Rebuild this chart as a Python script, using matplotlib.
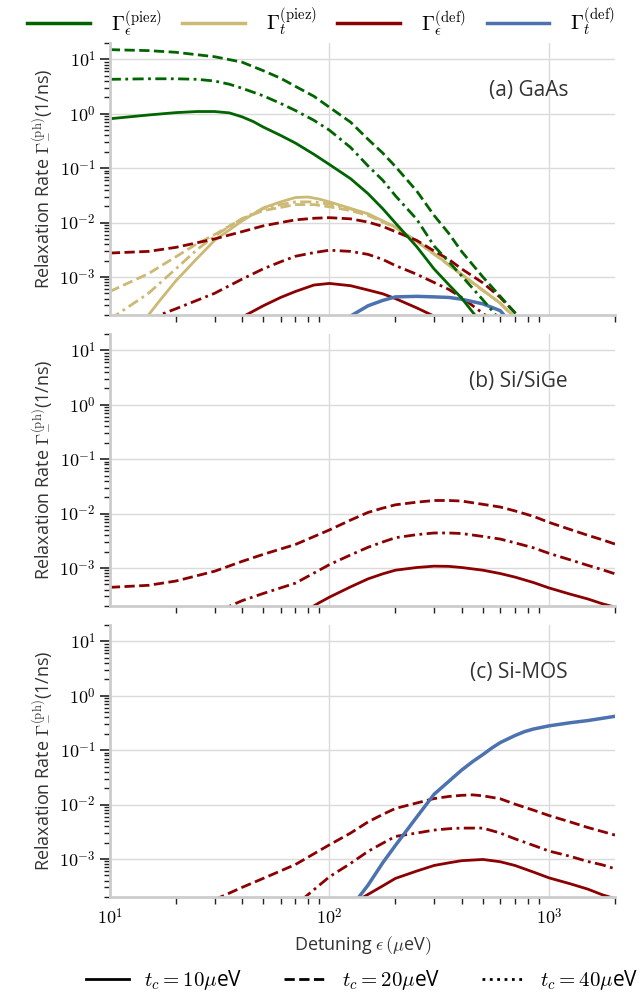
import numpy as np
import matplotlib
matplotlib.use('Agg')
import matplotlib.pyplot as plt
from matplotlib.lines import Line2D
from matplotlib.ticker import LogLocator, FuncFormatter, NullFormatter

plt.rcParams['font.family'] = ['Open Sans', 'DejaVu Sans']
plt.rcParams['mathtext.fontset'] = 'cm'

# ---------------- data (eps in ueV, rates in 1/ns) ----------------
# (a) GaAs
gaas_piez_e_10_x = [10, 15, 20, 25, 30, 35, 40, 45, 50, 60, 70, 85, 100, 125, 150, 175, 200, 250, 300, 350, 400, 500]
gaas_piez_e_10_y = [0.81, 0.95, 1.05, 1.10, 1.10, 1.04, 0.88, 0.72, 0.57, 0.40, 0.29, 0.18, 0.117, 0.064, 0.034,
                    0.018, 0.0098, 3.6e-3, 1.4e-3, 7.2e-4, 4.1e-4, 1.3e-4]
gaas_piez_e_20_x = [10, 15, 20, 30, 40, 50, 60, 70, 85, 100, 125, 150, 175, 200, 250, 300, 350, 400, 500, 600, 700, 750]
gaas_piez_e_20_y = [15.1, 14.5, 13.5, 11.2, 8.9, 6.2, 4.5, 3.2, 2.1, 1.32, 0.70, 0.34, 0.19, 0.107, 0.038, 0.0135,
                    6.3e-3, 2.95e-3, 1.0e-3, 4.4e-4, 2.2e-4, 1.6e-4]
gaas_piez_e_40_x = [10, 15, 20, 25, 30, 35, 40, 50, 60, 70, 85, 100, 125, 150, 175, 200, 250, 300, 350, 400, 500, 600]
gaas_piez_e_40_y = [4.3, 4.4, 4.4, 4.3, 4.0, 3.5, 2.95, 2.14, 1.55, 1.15, 0.76, 0.50, 0.24, 0.11, 0.06, 0.031,
                    0.0115, 3.7e-3, 1.9e-3, 1.05e-3, 3.8e-4, 1.6e-4]

gaas_piez_t_10_x = [14, 17, 20, 25, 30, 35, 40, 50, 60, 70, 80, 90, 100, 150, 200, 250, 300, 350, 400, 500, 600, 700]
gaas_piez_t_10_y = [1.4e-4, 3.8e-4, 8.5e-4, 2.2e-3, 4.7e-3, 7.3e-3, 0.0107, 0.0186, 0.024, 0.0288, 0.0295, 0.027,
                    0.024, 0.0145, 8.3e-3, 4.5e-3, 2.7e-3, 1.66e-3, 1.12e-3, 5.75e-4, 3.3e-4, 1.8e-4]
gaas_piez_t_20_x = [10, 15, 20, 25, 30, 40, 50, 60, 70, 85, 100, 125, 150, 200, 250, 300, 350, 400, 500, 600, 700]
gaas_piez_t_20_y = [5.4e-4, 1.15e-3, 2.35e-3, 4.1e-3, 6.0e-3, 0.0117, 0.0166, 0.019, 0.0214, 0.0214, 0.0195, 0.0166,
                    0.0135, 8.1e-3, 4.5e-3, 2.6e-3, 1.66e-3, 1.1e-3, 5.6e-4, 3.3e-4, 1.74e-4]
gaas_piez_t_40_x = [10, 15, 20, 25, 30, 35, 40, 50, 60, 70, 85, 100, 125, 150, 200, 250, 300, 350, 400, 500, 600, 700]
gaas_piez_t_40_y = [1.66e-4, 5.0e-4, 1.41e-3, 3.2e-3, 5.6e-3, 8.5e-3, 0.0117, 0.018, 0.0214, 0.024, 0.024, 0.0219,
                    0.0178, 0.0141, 8.3e-3, 4.5e-3, 2.66e-3, 1.66e-3, 1.11e-3, 5.7e-4, 3.3e-4, 1.76e-4]

gaas_def_e_10_x = [35, 40, 50, 60, 70, 85, 100, 125, 150, 175, 200, 250, 300]
gaas_def_e_10_y = [1.38e-4, 1.82e-4, 2.95e-4, 4.2e-4, 5.4e-4, 7.1e-4, 7.6e-4, 6.9e-4, 5.75e-4, 4.9e-4, 4.0e-4,
                   2.7e-4, 1.9e-4]
gaas_def_e_20_x = [10, 15, 20, 30, 40, 50, 60, 70, 85, 100, 125, 150, 175, 200, 250, 300, 350, 400, 500, 600, 700, 750]
gaas_def_e_20_y = [2.75e-3, 2.95e-3, 3.5e-3, 5.0e-3, 6.8e-3, 8.7e-3, 0.010, 0.0112, 0.012, 0.0123, 0.0117, 0.0102,
                   8.5e-3, 6.8e-3, 4.7e-3, 3.0e-3, 2.1e-3, 1.41e-3, 7.8e-4, 4.2e-4, 2.2e-4, 1.6e-4]
gaas_def_e_40_x = [15, 20, 30, 40, 50, 60, 70, 85, 100, 125, 150, 175, 200, 250, 300, 350, 400, 500, 550]
gaas_def_e_40_y = [1.66e-4, 2.6e-4, 5.0e-4, 9.1e-4, 1.41e-3, 1.9e-3, 2.4e-3, 2.8e-3, 3.1e-3, 2.95e-3, 2.6e-3,
                   2.1e-3, 1.62e-3, 1.12e-3, 7.9e-4, 5.9e-4, 4.2e-4, 2.15e-4, 1.6e-4]

gaas_def_t_x = [120, 150, 175, 200, 250, 300, 350, 400, 500, 600, 650]
gaas_def_t_y = [1.74e-4, 2.95e-4, 3.7e-4, 4.3e-4, 4.4e-4, 4.3e-4, 4.2e-4, 3.9e-4, 3.2e-4, 2.4e-4, 1.66e-4]

# (b) Si/SiGe
sige_def_e_10_x = [80, 90, 100, 125, 150, 175, 200, 250, 300, 350, 400, 500, 600, 700, 850, 1000, 1250, 1500, 1750, 2000]
sige_def_e_10_y = [1.74e-4, 2.3e-4, 2.9e-4, 4.5e-4, 6.3e-4, 7.8e-4, 9.1e-4, 1.02e-3, 1.08e-3, 1.07e-3, 1.02e-3,
                   9.1e-4, 7.9e-4, 6.8e-4, 5.4e-4, 4.3e-4, 3.3e-4, 2.7e-4, 2.2e-4, 1.9e-4]
sige_def_e_20_x = [10, 15, 20, 30, 40, 50, 70, 100, 125, 150, 175, 200, 250, 300, 350, 400, 500, 600, 700, 850,
                   1000, 1250, 1500, 1750, 2000]
sige_def_e_20_y = [4.4e-4, 4.8e-4, 5.75e-4, 8.7e-4, 1.32e-3, 1.78e-3, 2.7e-3, 5.0e-3, 7.6e-3, 0.0105, 0.0126,
                   0.0145, 0.0162, 0.0174, 0.0174, 0.017, 0.0148, 0.0132, 0.0112, 8.9e-3, 6.9e-3, 5.1e-3, 4.0e-3,
                   3.3e-3, 2.75e-3]
sige_def_e_40_x = [30, 40, 50, 70, 100, 125, 150, 175, 200, 250, 300, 350, 400, 500, 600, 700, 850, 1000, 1250,
                   1500, 1750, 2000]
sige_def_e_40_y = [1.5e-4, 2.5e-4, 3.4e-4, 5.25e-4, 1.15e-3, 1.74e-3, 2.4e-3, 3.0e-3, 3.6e-3, 4.1e-3, 4.4e-3,
                   4.4e-3, 4.3e-3, 3.8e-3, 3.4e-3, 2.9e-3, 2.35e-3, 1.86e-3, 1.41e-3, 1.12e-3, 9.3e-4, 7.8e-4]

# (c) Si-MOS
mos_def_e_10_x = [140, 175, 200, 250, 300, 350, 400, 500, 600, 700, 850, 1000, 1250, 1500, 1750, 2000]
mos_def_e_10_y = [1.9e-4, 3.2e-4, 4.4e-4, 6.0e-4, 7.6e-4, 8.5e-4, 9.3e-4, 9.8e-4, 8.9e-4, 7.6e-4, 5.75e-4,
                  4.5e-4, 3.5e-4, 2.8e-4, 2.2e-4, 1.86e-4]
mos_def_e_20_x = [30, 40, 50, 70, 100, 125, 150, 175, 200, 250, 300, 350, 400, 450, 500, 600, 700, 850, 1000,
                  1250, 1500, 1750, 2000]
mos_def_e_20_y = [1.78e-4, 3.0e-4, 4.4e-4, 7.9e-4, 1.82e-3, 3.0e-3, 4.8e-3, 6.6e-3, 8.5e-3, 0.0107, 0.0129,
                  0.0141, 0.0148, 0.0151, 0.0145, 0.0128, 0.0102, 7.9e-3, 6.3e-3, 4.8e-3, 3.8e-3, 3.2e-3, 2.75e-3]
mos_def_e_40_x = [75, 100, 125, 150, 175, 200, 250, 300, 350, 400, 500, 600, 700, 850, 1000, 1250, 1500, 1750, 2000]
mos_def_e_40_y = [1.78e-4, 4.7e-4, 8.3e-4, 1.38e-3, 1.95e-3, 2.6e-3, 3.0e-3, 3.4e-3, 3.6e-3, 3.7e-3, 3.7e-3,
                  3.0e-3, 2.35e-3, 1.78e-3, 1.4e-3, 1.12e-3, 9.0e-4, 7.8e-4, 6.6e-4]
mos_def_t_x = [135, 150, 175, 200, 250, 300, 400, 450, 500, 550, 600, 700, 775, 850, 1000, 1250, 1500, 2000]
mos_def_t_y = [1.9e-4, 3.3e-4, 8.5e-4, 1.78e-3, 5.9e-3, 0.0155, 0.043, 0.062, 0.083, 0.11, 0.138, 0.186, 0.22,
               0.245, 0.28, 0.32, 0.35, 0.42]

panel_labels = ['(a) GaAs', '(b) Si/SiGe', '(c) Si-MOS']
legend_labels = [r'$\Gamma_\epsilon^{(\mathrm{piez})}$', r'$\Gamma_t^{(\mathrm{piez})}$',
                 r'$\Gamma_\epsilon^{(\mathrm{def})}$', r'$\Gamma_t^{(\mathrm{def})}$']
tc_labels = [r'$t_c = 10\mu$eV', r'$t_c = 20\mu$eV', r'$t_c = 40\mu$eV']

# ---------------- styles ----------------
GREEN = '#006400'
TAN = '#ccb974'
RED = '#8b0000'
BLUE = '#4c72b0'
LW = 2.0
DASHDOT = (0, (4, 1.6, 1, 1.6))
TXT = '#333333'

fig = plt.figure(figsize=(6.42, 9.98), dpi=100)
left, width, height = 0.171, 0.787, 0.2725
bottoms = [0.6844, 0.3928, 0.1012]
axes = []
for b in bottoms:
    ax = fig.add_axes([left, b, width, height], sharex=axes[0] if axes else None)
    axes.append(ax)

ax_a, ax_b, ax_c = axes

# (a) GaAs
ax_a.plot(gaas_piez_t_20_x, gaas_piez_t_20_y, color=TAN, lw=LW, ls='--')
ax_a.plot(gaas_piez_t_40_x, gaas_piez_t_40_y, color=TAN, lw=LW, ls=DASHDOT)
ax_a.plot(gaas_piez_t_10_x, gaas_piez_t_10_y, color=TAN, lw=LW, ls='-')
ax_a.plot(gaas_def_e_10_x, gaas_def_e_10_y, color=RED, lw=LW, ls='-')
ax_a.plot(gaas_def_e_20_x, gaas_def_e_20_y, color=RED, lw=LW, ls='--')
ax_a.plot(gaas_def_e_40_x, gaas_def_e_40_y, color=RED, lw=LW, ls=DASHDOT)
ax_a.plot(gaas_def_t_x, gaas_def_t_y, color=BLUE, lw=LW + 0.5, ls='-')
ax_a.plot(gaas_piez_e_10_x, gaas_piez_e_10_y, color=GREEN, lw=LW, ls='-')
ax_a.plot(gaas_piez_e_20_x, gaas_piez_e_20_y, color=GREEN, lw=LW, ls='--')
ax_a.plot(gaas_piez_e_40_x, gaas_piez_e_40_y, color=GREEN, lw=LW, ls=DASHDOT)

# (b) Si/SiGe
ax_b.plot(sige_def_e_10_x, sige_def_e_10_y, color=RED, lw=LW, ls='-')
ax_b.plot(sige_def_e_20_x, sige_def_e_20_y, color=RED, lw=LW, ls='--')
ax_b.plot(sige_def_e_40_x, sige_def_e_40_y, color=RED, lw=LW, ls=DASHDOT)

# (c) Si-MOS
ax_c.plot(mos_def_e_10_x, mos_def_e_10_y, color=RED, lw=LW, ls='-')
ax_c.plot(mos_def_e_20_x, mos_def_e_20_y, color=RED, lw=LW, ls='--')
ax_c.plot(mos_def_e_40_x, mos_def_e_40_y, color=RED, lw=LW, ls=DASHDOT)
ax_c.plot(mos_def_t_x, mos_def_t_y, color=BLUE, lw=LW + 0.5, ls='-')

log_fmt = FuncFormatter(lambda v, _: r'$10^{%d}$' % round(np.log10(v)))

for i, ax in enumerate(axes):
    ax.set_xscale('log')
    ax.set_yscale('log')
    ax.set_xlim(10, 2000)
    ax.set_ylim(2e-4, 2e1)
    ax.grid(True, which='major', color='#dadada', lw=1.0)
    ax.set_axisbelow(True)
    for s in ['top', 'right']:
        ax.spines[s].set_visible(False)
    for s in ['left', 'bottom']:
        ax.spines[s].set_color('#cccccc')
        ax.spines[s].set_linewidth(2.0)
    ax.yaxis.set_major_locator(LogLocator(base=10, numticks=12))
    ax.yaxis.set_minor_locator(LogLocator(base=10, subs=np.arange(2, 10), numticks=12))
    ax.yaxis.set_major_formatter(log_fmt)
    ax.yaxis.set_minor_formatter(NullFormatter())
    ax.xaxis.set_major_formatter(log_fmt)
    ax.xaxis.set_minor_formatter(NullFormatter())
    ax.tick_params(axis='y', which='major', length=7, width=1.2, color='#222222', labelsize=13, pad=3)
    ax.tick_params(axis='y', which='minor', length=4.5, width=1.0, color='#222222')
    ax.tick_params(axis='x', which='major', length=0, labelsize=13, pad=8)
    ax.tick_params(axis='x', which='minor', length=5, width=1.0, color='#222222')
    ax.set_ylabel(r'Relaxation Rate $\Gamma_{-}^{(\mathrm{ph})}$(1/ns)', fontsize=13, color=TXT)
    ax.text(0.907, 0.827, panel_labels[i], transform=ax.transAxes, ha='right', va='center',
            fontsize=15, color=TXT)
    if i < 2:
        ax.tick_params(axis='x', which='both', labelbottom=False)

ax_c.set_xlabel(r'Detuning $\epsilon\,(\mu$eV$)$', fontsize=13, color=TXT)

# legends
top_handles = [Line2D([], [], color=c, lw=2.5) for c in [GREEN, TAN, RED, BLUE]]
fig.legend(top_handles, legend_labels, loc='center', bbox_to_anchor=(0.5, 1 - 22 / 998), ncol=4,
           frameon=False, fontsize=15, handlelength=3.0, handletextpad=1.0, columnspacing=1.0)

tc_handles = [Line2D([], [], color='k', lw=2.0, ls=s) for s in ['-', '--', ':']]
fig.legend(tc_handles, tc_labels, loc='center', bbox_to_anchor=(362 / 642, 1 - 980 / 998), ncol=3,
           frameon=False, fontsize=15, handlelength=2.1, handletextpad=0.7, columnspacing=2.0)

plt.savefig('out.png', dpi=100)
plt.close()
